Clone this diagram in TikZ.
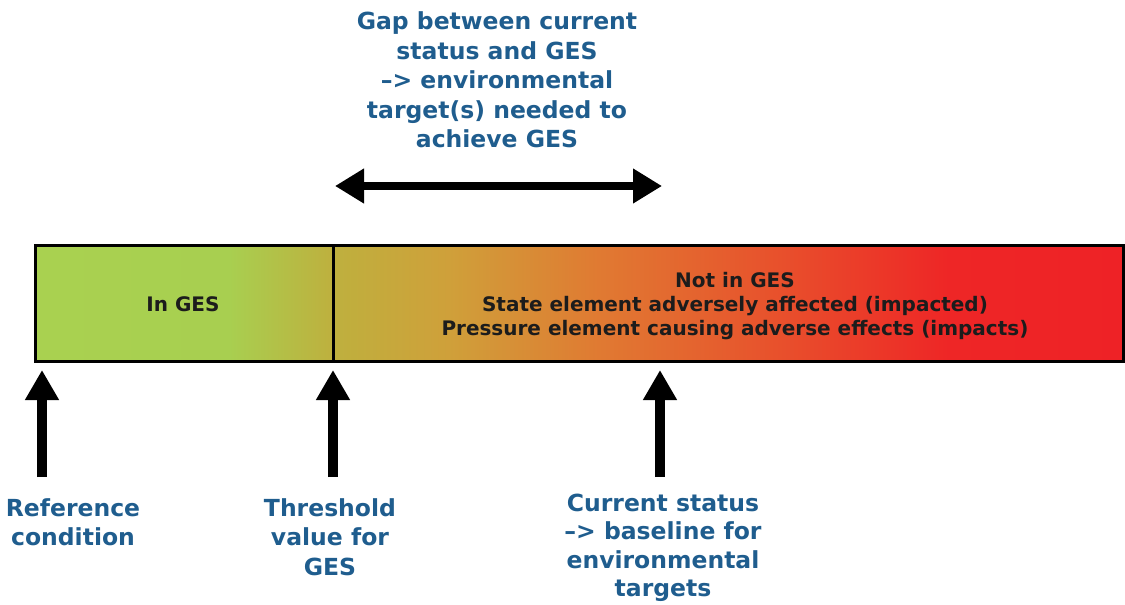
\documentclass[tikz,border=0pt]{standalone}
\usepackage{fontspec}
\setmainfont{DejaVu Sans}
\usetikzlibrary{arrows.meta}
\definecolor{lblue}{HTML}{1F5D8E}
\definecolor{dtext}{HTML}{1C1C1C}
\pgfdeclarehorizontalshading{barshade}{100bp}{%
  color(0bp)=({rgb,255:red,169;green,209;blue,80});
  color(25bp)=({rgb,255:red,169;green,209;blue,80});
  color(33.9bp)=({rgb,255:red,168;green,207;blue,80});
  color(38.67bp)=({rgb,255:red,190;green,176;blue,62});
  color(44bp)=({rgb,255:red,207;green,160;blue,58});
  color(50.9bp)=({rgb,255:red,224;green,122;blue,50});
  color(59.2bp)=({rgb,255:red,232;green,80;blue,44});
  color(67bp)=({rgb,255:red,238;green,38;blue,38});
  color(75bp)=({rgb,255:red,238;green,34;blue,38});
  color(100bp)=({rgb,255:red,238;green,34;blue,38})}
\tikzset{
  lbl/.style={text=lblue, align=center, inner sep=0pt, font=\bfseries\fontsize{23.5}{29.5}\selectfont},
  bartext/.style={text=dtext, align=center, inner sep=0pt, font=\bfseries\fontsize{20}{24}\selectfont},
  uparrow/.style={line width=10pt, -{Triangle[width=32pt,length=30pt]}},
  gaparrow/.style={line width=8pt, {Triangle[width=33pt,length=29pt]}-{Triangle[width=33pt,length=29pt]}},
}
\begin{document}
\begin{tikzpicture}[x=1pt,y=-1pt]
\useasboundingbox (0,0) rectangle (1125,605);
% bar
\shade[shading=barshade] (35,245) rectangle (1123,361);
\draw[line width=3pt] (35,245) rectangle (1123,361);
\coordinate (divtop) at (333,245);
\coordinate (divbot) at (333,361);
\draw[line width=3pt] (divtop) -- (divbot);
\node[bartext] (inges) at (183,304) {In GES};
\node[bartext] (notges) at (735,306) {Not in GES\\State element adversely affected (impacted)\\Pressure element causing adverse effects (impacts)};
% top label and gap arrow
\node[lbl] (gap) at (497,80) {Gap between current\\status and GES\\–> environmental\\target(s) needed to\\achieve GES};
\coordinate (gapL) at (335,186);
\coordinate (gapR) at (662,186);
\draw[gaparrow] (gapL) -- (gapR);
% bottom labels
\node[lbl] (ref) at (73,522) {Reference\\condition};
\node[lbl] (thr) at (330,537) {Threshold\\value for\\GES};
\node[lbl, anchor=south, font=\bfseries\fontsize{23.5}{28.5}\selectfont] (cur) at (663,602) {Current status\\–> baseline for\\environmental\\targets};
% up arrows
\coordinate (refB) at (42,477); \coordinate (refT) at (42,370);
\coordinate (thrB) at (333,477); \coordinate (thrT) at (333,370);
\coordinate (curB) at (660,477); \coordinate (curT) at (660,370);
\draw[uparrow] (refB) -- (refT);
\draw[uparrow] (thrB) -- (thrT);
\draw[uparrow] (curB) -- (curT);
\end{tikzpicture}
\end{document}
